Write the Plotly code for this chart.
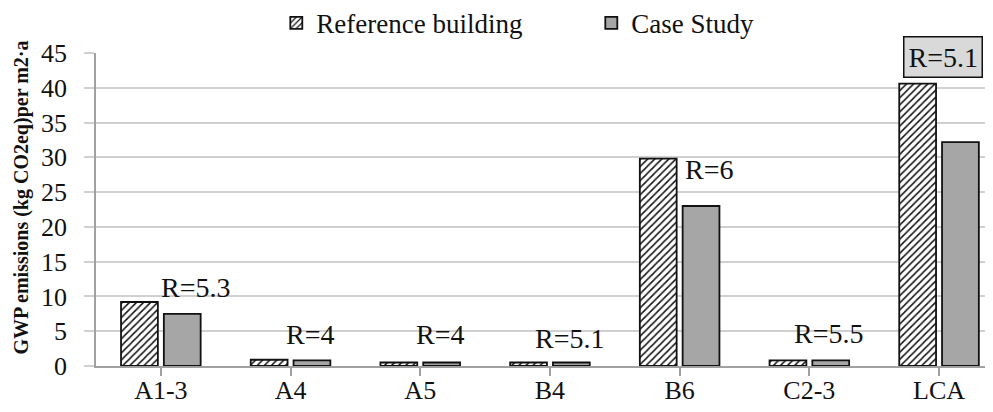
import plotly.graph_objects as go

categories = ["A1-3", "A4", "A5", "B4", "B6", "C2-3", "LCA"]
reference_building = [9.2, 0.9, 0.5, 0.5, 29.8, 0.8, 40.6]
case_study = [7.5, 0.8, 0.5, 0.5, 23.0, 0.8, 32.2]
ratio_labels = ["R=5.3", "R=4", "R=4", "R=5.1", "R=6", "R=5.5", "R=5.1"]
label_y = [11.3, 4.5, 4.5, 4.0, 28.2, 4.7, 44.4]
label_dx = [0.27, 0.15, 0.155, 0.15, 0.23, 0.15, 0.03]
y_ticks = [0, 5, 10, 15, 20, 25, 30, 35, 40, 45]

FONT = "Liberation Serif"
INK = "#111111"

fig = go.Figure()
fig.add_trace(go.Bar(
    name="Reference building", x=list(range(len(categories))), y=reference_building,
    marker=dict(color="white", line=dict(color=INK, width=1.8),
                pattern=dict(shape="/", fgcolor=INK, bgcolor="white",
                             size=5, solidity=0.3, fillmode="replace")),
))
fig.add_trace(go.Bar(
    name="Case Study", x=list(range(len(categories))), y=case_study,
    marker=dict(color="#A6A6A6", line=dict(color=INK, width=1.8)),
))

for i, (lab, ly, dx) in enumerate(zip(ratio_labels, label_y, label_dx)):
    boxed = (i == len(categories) - 1)
    fig.add_annotation(
        x=i + dx, y=ly, text=lab, showarrow=False,
        font=dict(family=FONT, size=28, color=INK),
        bgcolor="#D9D9D9" if boxed else "rgba(0,0,0,0)",
        bordercolor=INK if boxed else "rgba(0,0,0,0)",
        borderwidth=1.5 if boxed else 0, borderpad=4,
    )

# y-axis title as rotated annotation
fig.add_annotation(
    xref="paper", yref="paper", x=0, y=0.538, xshift=-74,
    text="<b>GWP emissions (kg CO2eq)per m2·a</b>", textangle=-90,
    showarrow=False, xanchor="center", yanchor="middle",
    font=dict(family=FONT, size=20, color=INK),
)

fig.update_layout(
    width=985, height=404,
    margin=dict(l=88, r=0, t=45, b=46, autoexpand=False),
    paper_bgcolor="white", plot_bgcolor="white",
    barmode="group", bargap=0.34, bargroupgap=0.14,
    font=dict(family=FONT, color=INK),
    legend=dict(orientation="h", x=0.201, xanchor="left", y=1.095, yanchor="middle",
                font=dict(family=FONT, size=27, color=INK),
                itemwidth=30, traceorder="normal", entrywidth=270),
    showlegend=True,
)
fig.update_xaxes(
    tickmode="array", tickvals=list(range(len(categories))), ticktext=categories,
    range=[-0.5, 6.416], showgrid=False, automargin=False,
    showline=True, linecolor="#A0A0A0", linewidth=1.5,
    ticks="outside", ticklen=8, tickcolor="#A0A0A0", tickwidth=1.5,
    tickfont=dict(family=FONT, size=26, color=INK),
    ticklabelstandoff=-8,
    zeroline=False,
)
fig.update_yaxes(
    range=[0, 45], tickvals=y_ticks, automargin=False,
    showgrid=True, gridcolor="#D0D0D0", gridwidth=1.5,
    showline=True, linecolor="#A0A0A0", linewidth=1.5,
    ticks="outside", ticklen=10, tickcolor="#D0D0D0", tickwidth=1.5,
    tickfont=dict(family=FONT, size=26, color=INK),
    ticklabelstandoff=12,
    zeroline=False,
)

fig.write_html("out.html")
